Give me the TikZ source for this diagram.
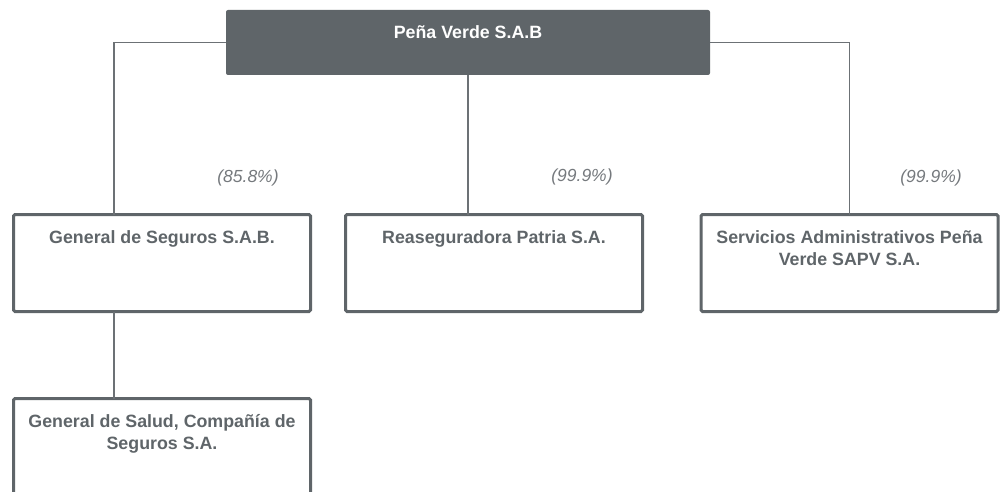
\documentclass[tikz,border=0pt]{standalone}
\usepackage{fontspec}
\setmainfont{Liberation Sans}
\definecolor{pvgray}{HTML}{5F6569}
\definecolor{pvline}{HTML}{6C7175}
\definecolor{pvpct}{HTML}{75797D}
\newcommand{\orgtext}[3]{\parbox[c][#1][t]{#2}{\centering\rule{0pt}{29pt}#3}}
\begin{document}
\begin{tikzpicture}[x=1pt, y=-1pt,
		headbox/.style={fill=pvgray, rounded corners=2pt, minimum width=484pt, minimum height=65pt, inner sep=0pt, outer sep=0pt, text=white, font=\fontsize{17.8}{21.5}\selectfont\bfseries},
		orgbox/.style={draw=pvgray, line width=3pt, rounded corners=1.5pt, minimum width=297pt, minimum height=97pt, inner sep=0pt, outer sep=0pt, text=pvgray, font=\fontsize{17.8}{21.5}\selectfont\bfseries},
		link/.style={draw=pvline, line width=1.5pt},
		pct/.style={text=pvpct, font=\fontsize{17.5}{20}\selectfont\itshape}]
				\clip (0,0) rectangle (1002,492);
				\node[headbox] (pv) at (468,42.5) {\orgtext{65pt}{470pt}{Peña Verde S.A.B}};
				\node[orgbox] (gs) at (162,263) {\orgtext{97pt}{290pt}{General de Seguros S.A.B.}};
				\node[orgbox] (rp) at (494,263) {\orgtext{97pt}{290pt}{Reaseguradora Patria S.A.}};
				\node[orgbox] (sa) at (849.5,263) {\orgtext{97pt}{290pt}{Servicios Administrativos Peña Verde SAPV S.A.}};
				\node[orgbox] (gsal) at (162,447) {\orgtext{97pt}{290pt}{General de Salud, Compañía de Seguros S.A.}};
				\draw[link] (pv.west) -| ([xshift=-48pt]gs.north);
				\draw[link] (pv.south) -- (pv.south |- rp.north);
				\draw[link] (pv.east) -| (sa.north);
				\draw[link] ([xshift=-48pt]gs.south) -- ([xshift=-48pt]gsal.north);
				\node[pct] (p1) at (248,178) {(85.8\%)};
				\node[pct] (p2) at (582,177) {(99.9\%)};
				\node[pct] (p3) at (931,178) {(99.9\%)};
			\end{tikzpicture}
\end{document}
